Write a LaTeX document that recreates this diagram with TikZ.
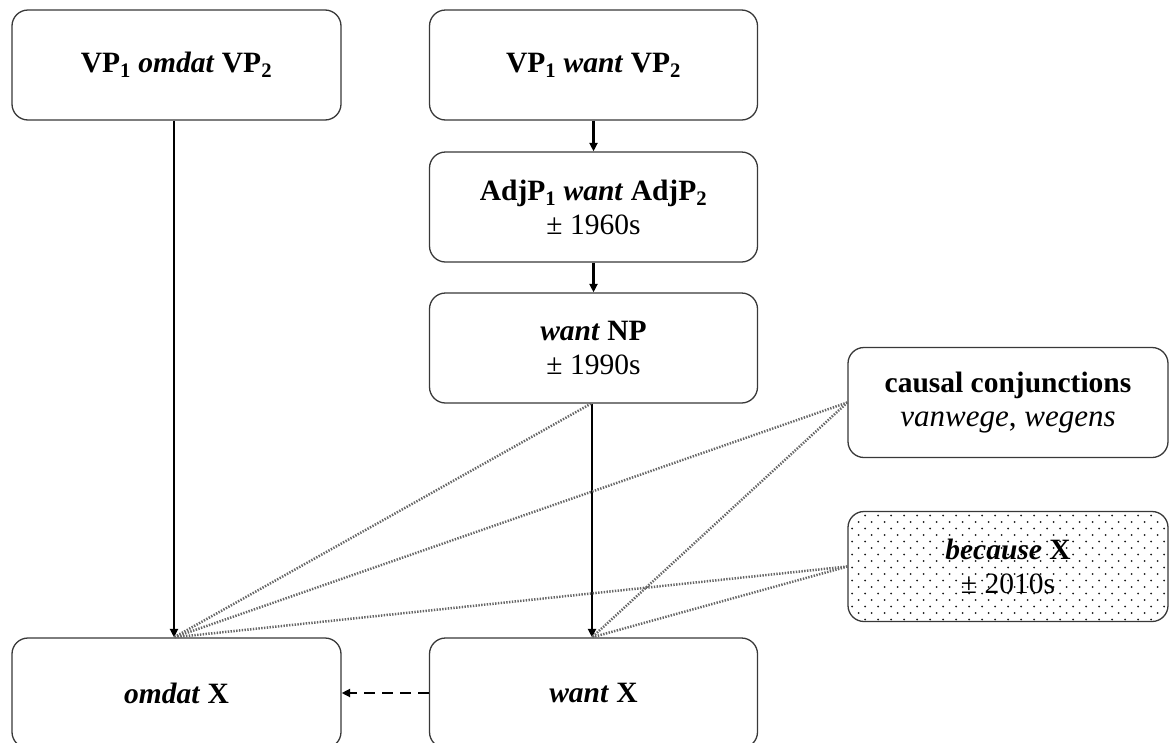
\documentclass[tikz,border=0pt]{standalone}
\usepackage{fontspec}
\setmainfont{Liberation Serif}
\usetikzlibrary{arrows.meta,calc}
\begin{document}
\begin{tikzpicture}[x=1pt,y=-1pt,
  box/.style={draw=black!78, line width=1.3pt, rounded corners=16pt,
    minimum height=110pt, align=center, inner sep=0pt,
    font=\fontsize{29.5}{34}\selectfont},
  narrow/.style={box, minimum width=328pt},
  wide/.style={box, minimum width=320pt},
  dotfill/.style={path picture={
    \coordinate (nw) at (path picture bounding box.north west);
    \foreach \i in {0,...,17}{
      \foreach \j in {0,...,25}{
        \pgfmathsetmacro{\dx}{\j*13+4+mod(\i,2)*6.5}
        \pgfmathsetmacro{\dy}{\i*6.5+4}
        \fill[black!90] ($(nw)+(\dx,\dy)$) circle (1pt);
      }
    }}},
  link/.style={line width=2.8pt, -{Triangle[length=8.5pt,width=8pt]}},
  dashlink/.style={line width=2.6pt, dash pattern=on 11pt off 7pt, -{Triangle[length=8.5pt,width=8pt]}},
  relation/.style={black!60, line width=2.5pt, dash pattern=on 1.4pt off 1.4pt},
]
\useasboundingbox (0,0) rectangle (1170,742);

% left column
\node[narrow, minimum width=329pt] (vpomdat) at (176.5,65)
  {\textbf{VP\textsubscript{1} \textit{omdat} VP\textsubscript{2}}};
\node[narrow, minimum width=329pt] (omdatx) at (176.5,693)
  {\textbf{\textit{omdat} X}};

% middle column
\node[narrow] (vpwant) at (593.5,65)
  {\textbf{VP\textsubscript{1} \textit{want} VP\textsubscript{2}}};
\node[narrow] (adjwant) at (593.5,207)
  {\textbf{AdjP\textsubscript{1} \textit{want} AdjP\textsubscript{2}}\\± 1960s};
\node[narrow] (wantnp) at (593.5,348)
  {\textbf{\textit{want} NP}\\± 1990s};
\node[narrow] (wantx) at (593.5,693)
  {\textbf{\textit{want} X}};

% right column
\node[wide] (causal) at (1008,402.5)
  {\textbf{causal conjunctions}\\{\fontsize{31}{34}\selectfont\textit{vanwege}, \textit{wegens}}};
\node[wide, dotfill] (because) at (1008,566.5)
  {\textbf{\textit{because} X}\\± 2010s};

% developments
\draw[link] ([xshift=-2.5pt]vpomdat.south) -- ([xshift=-2.5pt]omdatx.north);
\draw[link] (vpwant.south) -- (adjwant.north);
\draw[link] (adjwant.south) -- (wantnp.north);
\draw[link] ([xshift=-1.5pt]wantnp.south) -- ([xshift=-1.5pt]wantx.north);
\draw[dashlink] (wantx.west) -- (omdatx.east);

% relations
\draw[relation] ([xshift=-2.5pt]wantnp.south) -- ([xshift=-2.5pt]omdatx.north);
\draw[relation] (causal.west) -- ([xshift=-2.5pt]omdatx.north);
\draw[relation] (causal.west) -- ([xshift=-1.5pt]wantx.north);
\draw[relation] (because.west) -- ([xshift=-2.5pt]omdatx.north);
\draw[relation] (because.west) -- ([xshift=-1.5pt]wantx.north);
\end{tikzpicture}
\end{document}
